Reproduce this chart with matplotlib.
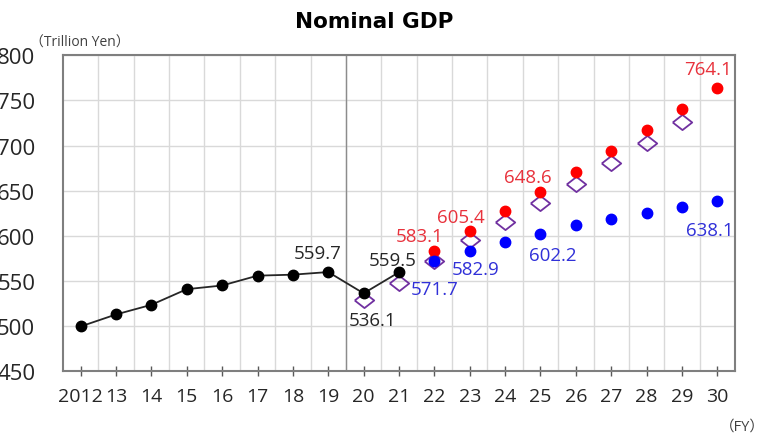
import matplotlib
matplotlib.use("Agg")
import matplotlib.pyplot as plt
from matplotlib.ticker import MultipleLocator, FixedLocator
import numpy as np

# ---- data ----
years = list(range(2012, 2031))
tick_labels = ["2012"] + [str(y % 100) for y in years[1:]]

actual_years = list(range(2012, 2022))
actual_vals = [499.4, 512.7, 523.4, 540.7, 544.8, 555.7, 556.8, 559.7, 536.1, 559.5]

proj_years = list(range(2022, 2031))
growth_vals = [583.1, 605.4, 627.4, 648.6, 670.7, 694.0, 717.0, 740.3, 764.1]
baseline_vals = [571.7, 582.9, 593.3, 602.2, 611.4, 618.1, 624.8, 631.8, 638.1]

prev_years = list(range(2020, 2030))
prev_vals = [529.2, 547.8, 572.0, 594.8, 615.6, 635.9, 657.8, 680.3, 703.3, 725.6]

# labelled points: (series, year) -> pixel offset of label centre
actual_label_offsets = {2019: (-11, 19), 2020: (9, -27), 2021: (-6, 12)}
growth_label_offsets = {2022: (-15, 15), 2023: (-9, 14), 2025: (-13, 15), 2030: (-9, 19)}
baseline_label_offsets = {2022: (0, -28), 2023: (6, -18), 2025: (12, -21), 2030: (-8, -29)}

NUM_FONT = ["Open Sans", "DejaVu Sans"]
plt.rcParams["font.family"] = ["Open Sans", "Noto Sans CJK JP", "DejaVu Sans"]

fig = plt.figure(figsize=(7.72, 4.35), dpi=100)
ax = fig.add_axes([63 / 772, 1 - 372 / 435, (735 - 63) / 772, (372 - 56.3) / 435])

ax.set_xlim(2011.5, 2030.5)
ax.set_ylim(450, 800)

# grid
ax.yaxis.set_major_locator(MultipleLocator(50))
ax.xaxis.set_major_locator(FixedLocator(years))
ax.xaxis.set_minor_locator(FixedLocator([y + 0.5 for y in years[:-1]]))
ax.grid(axis="y", which="major", color="#d9d9d9", lw=1.0, zorder=0)
ax.grid(axis="x", which="minor", color="#d9d9d9", lw=1.0, zorder=0)
ax.tick_params(axis="x", which="minor", length=0)
ax.set_axisbelow(True)

# separator between actual and projection
ax.axvline(2019.5, color="#8c8c8c", lw=1.0, zorder=1)

# series
ax.plot(prev_years, prev_vals, linestyle="none",
        marker=[(-1, 0), (0, 0.78), (1, 0), (0, -0.78), (-1, 0)],
        markersize=14, markerfacecolor="none", markeredgecolor="#7030a0",
        markeredgewidth=1.3, zorder=3)
ax.plot(actual_years, actual_vals, color="#262626", lw=1.3, marker="o",
        markersize=7.5, markerfacecolor="black", markeredgecolor="black", zorder=4)
ax.plot(proj_years, growth_vals, linestyle="none", marker="o", markersize=7.5,
        color="#ff0000", zorder=4)
ax.plot(proj_years, baseline_vals, linestyle="none", marker="o", markersize=7.5,
        color="#0000ff", zorder=4)

def add_labels(xs, vs, offsets, color):
    for x, v in zip(xs, vs):
        if x in offsets:
            dx, dy = offsets[x]
            ax.annotate(f"{v:.1f}", (x, v), xytext=(dx, dy), textcoords="offset pixels",
                        ha="center", va="center", fontsize=13.5, color=color,
                        family=NUM_FONT, zorder=5)

add_labels(actual_years, actual_vals, actual_label_offsets, "#262626")
add_labels(proj_years, growth_vals, growth_label_offsets, "#e8323c")
add_labels(proj_years, baseline_vals, baseline_label_offsets, "#3030d8")

# ticks
ax.set_xticks(years)
ax.set_xticklabels(tick_labels)
ax.tick_params(axis="x", which="major", direction="inout", length=7, width=1,
               color="#595959", pad=8, labelsize=14, labelcolor="#262626")
ax.tick_params(axis="y", which="major", length=0, pad=20, labelsize=16,
               labelcolor="#262626")
for lab in ax.get_xticklabels() + ax.get_yticklabels():
    lab.set_family(NUM_FONT)

for s in ax.spines.values():
    s.set_color("#7f7f7f")
    s.set_linewidth(1.5)

# titles and unit texts
fig.text(374 / 772, 1 - 22 / 435, "Nominal GDP", ha="center", va="center",
         fontsize=15.5, fontweight="bold", family=["DejaVu Sans"], color="black")
fig.text(30 / 772, 1 - 43 / 435, "（Trillion Yen）", ha="left", va="center",
         fontsize=10, color="#404040")
fig.text(742 / 772, 1 - 427 / 435, "（FY）", ha="center", va="center",
         fontsize=10.5, color="#404040")
fig.text(-7 / 772, 1 - 425 / 435, "）", ha="left", va="center",
         fontsize=10.5, color="#404040")

fig.savefig("out.png", dpi=100)
